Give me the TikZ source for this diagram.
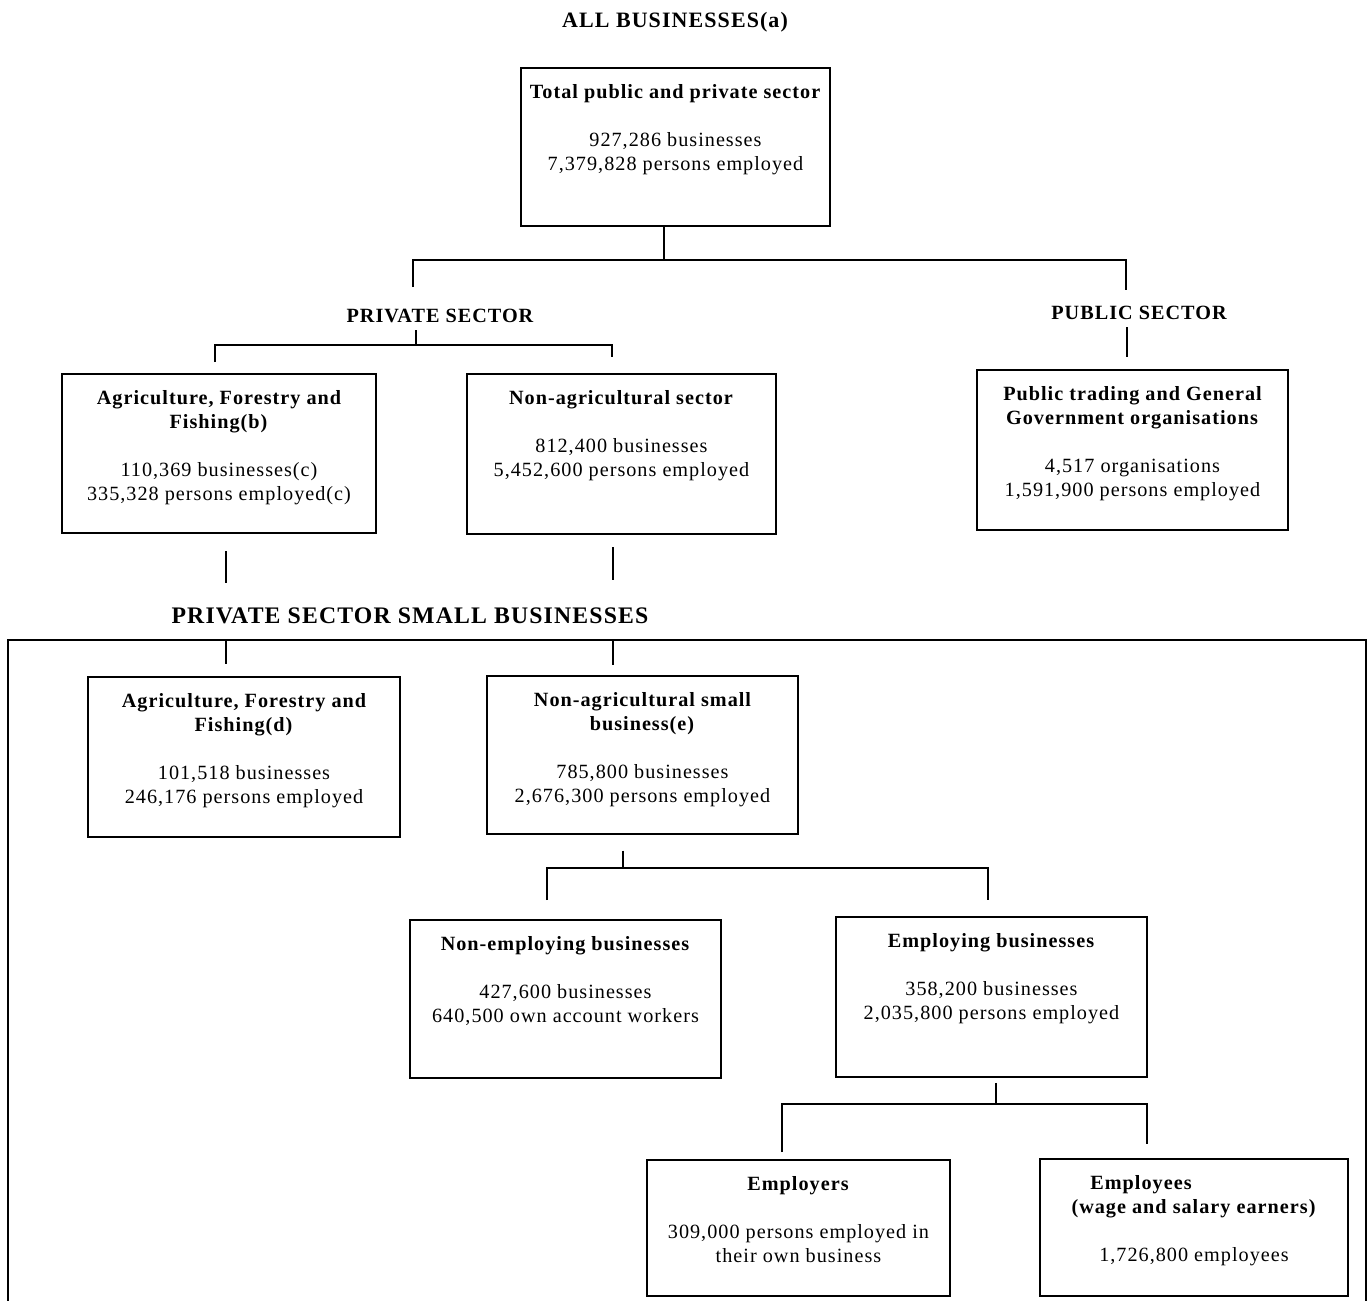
\documentclass[tikz,border=0pt]{standalone}
\usepackage{fontspec}
\setmainfont{Liberation Serif}[LetterSpace=5.0]
\newlength{\pxu}
\setlength{\pxu}{0.02cm}
\newcommand{\orgtext}[3]{\parbox[c][#2\pxu][t]{#1\pxu}{\centering\fontsize{11.5}{13.6}\selectfont\rule{0pt}{17.6pt}#3}}
\tikzset{
    orgbox/.style={draw,line width=0.8pt,inner sep=0pt},
    head/.style={font=\bfseries\fontsize{11.5}{13.6}\selectfont,inner sep=4pt},
    link/.style={line width=0.9pt}
}

\begin{document}
\begin{tikzpicture}[x=0.02cm,y=-0.02cm]
            \useasboundingbox (0,0) rectangle (1372,1301);
            \node [head,font=\bfseries\fontsize{12.5}{15}\selectfont] (all) at (675,22) {ALL BUSINESSES(a)};
            \node [head] (priv) at (440,316) {PRIVATE SECTOR};
            \node [head] (pub) at (1139,313) {PUBLIC SECTOR};
            \node [head,font=\bfseries\fontsize{13.5}{16}\selectfont] (small) at (410,616) {PRIVATE SECTOR SMALL BUSINESSES};
            \node [orgbox] (total) at (675.5,147) {\orgtext{309}{158}{\textbf{Total public and private sector}\\[13.6pt]927,286 businesses\\7,379,828 persons employed}};
            \node [orgbox] (agri) at (219,453.5) {\orgtext{314}{159}{\textbf{Agriculture, Forestry and\\Fishing(b)}\\[13.6pt]110,369 businesses(c)\\335,328 persons employed(c)}};
            \node [orgbox] (nonagri) at (621.5,454) {\orgtext{309}{160}{\textbf{Non-agricultural sector}\\[13.6pt]812,400 businesses\\5,452,600 persons employed}};
            \node [orgbox] (public) at (1132.5,450) {\orgtext{311}{160}{\textbf{Public trading and General\\Government organisations}\\[13.6pt]4,517 organisations\\1,591,900 persons employed}};
            \node [orgbox] (agrismall) at (244,757) {\orgtext{312}{160}{\textbf{Agriculture, Forestry and\\Fishing(d)}\\[13.6pt]101,518 businesses\\246,176 persons employed}};
            \node [orgbox] (nonagrismall) at (642.5,755) {\orgtext{311}{158}{\textbf{Non-agricultural small\\business(e)}\\[13.6pt]785,800 businesses\\2,676,300 persons employed}};
            \node [orgbox] (nonemp) at (565.5,999) {\orgtext{311}{158}{\textbf{Non-employing businesses}\\[13.6pt]427,600 businesses\\640,500 own account workers}};
            \node [orgbox] (emp) at (991.5,997) {\orgtext{311}{160}{\textbf{Employing businesses}\\[13.6pt]358,200 businesses\\2,035,800 persons employed}};
            \node [orgbox] (employers) at (798.5,1228) {\orgtext{303}{136}{\textbf{Employers}\\[13.6pt]309,000 persons employed in\\their own business}};
            \node [orgbox] (employees) at (1194,1227.5) {\orgtext{308}{137}{\textbf{\mbox{Employees\hspace{106\pxu}}\\(wage and salary earners)}\\[13.6pt]1,726,800 employees}};
            \coordinate (tj) at (664,260);
            \coordinate (tl) at (413,287);
            \coordinate (tr) at (1126,290);
            \draw [link] (total.south -| tj) -- (tj);
            \draw [link] (tl) |- (tj) -| (tr);
            \coordinate (pj) at (416,345);
            \coordinate (pl) at (215,362);
            \coordinate (pr) at (612,357);
            \draw [link] (priv.south -| pj) -- (pj);
            \draw [link] (pl) |- (pj) -| (pr);
            \coordinate (ps) at (1127,357);
            \draw [link] (pub.south -| ps) -- (ps);
            \coordinate (al) at (226,583);
            \coordinate (nl) at (613,580);
            \draw [link,shorten <=10pt] (agri.south -| al) -- (al);
            \draw [link,shorten <=7pt] (nonagri.south -| nl) -- (nl);
            \draw [link] (8,1301) -- (8,640) -- (1366,640) -- (1366,1301);
            \coordinate (fl) at (226,640);
            \coordinate (fr) at (613,640);
            \draw [link,shorten >=7pt] (fl) -- (agrismall.north -| fl);
            \draw [link,shorten >=6pt] (fr) -- (nonagrismall.north -| fr);
            \coordinate (nj) at (623,868);
            \coordinate (nel) at (547,900);
            \coordinate (ner) at (988,900);
            \draw [link,shorten <=9pt] (nonagrismall.south -| nj) -- (nj);
            \draw [link,line width=1.3pt] (nel) |- (nj) -| (ner);
            \coordinate (ej) at (996,1104);
            \coordinate (eml) at (782,1152);
            \coordinate (emr) at (1147,1144);
            \draw [link,shorten <=3pt] (emp.south -| ej) -- (ej);
            \draw [link] (eml) |- (ej) -| (emr);
\end{tikzpicture}
\end{document}
